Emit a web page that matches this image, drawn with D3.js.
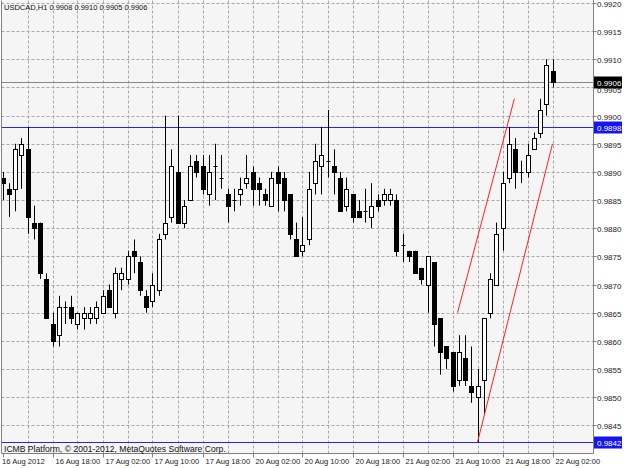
<!DOCTYPE html>
<html><head><meta charset="utf-8">
<script src="https://cdn.jsdelivr.net/npm/d3@7"></script>
<style>
html,body{margin:0;padding:0;background:#fff;}
svg{display:block;}
text{font-family:"Liberation Sans",Arial,sans-serif;}
</style></head>
<body>
<script>
// ---- data ----
const opens  = [.9889,.9887,.9887,.9893,.9894,.9881,.9881,.9871,.9863,.9861,.9866,.9866,.9863,.9864,.9864,.9864,.9865,.9869,.9865,.9871,.9871,.9876,.9874,.9868,.9867,.9869,.9879,.9882,.9890,.9881,.9885,.9892,.9891,.9886,.9891,.9889,.9886,.9885,.9886,.9888,.9890,.9888,.9886,.9884,.9890,.9889,.9886,.9878,.9876,.9878,.9888,.9891,.9892,.9891,.9889,.9884,.9886,.9883,.9883,.9882,.9885,.9885,.9885,.9885,.9877,.9876,.9876,.9873,.9870,.9874,.9864,.9859,.9858,.9853,.9857,.9852,.9850,.9853,.9865,.9870,.9880,.9889,.9894,.9890,.9890,.9894,.9897,.9902,.9908];
const highs  = [.9890,.9888,.9895,.9896,.9898,.9884,.9881,.9872,.9865,.9868,.9867,.9868,.9865,.9866,.9866,.9867,.9869,.9870,.9873,.9873,.9876,.9878,.9875,.9869,.9872,.9879,.9900,.9894,.9900,.9885,.9893,.9893,.9893,.9893,.9895,.9893,.9887,.9887,.9889,.9893,.9891,.9889,.9887,.9890,.9891,.9890,.9886,.9881,.9882,.9890,.9895,.9898,.9901,.9894,.9890,.9889,.9886,.9885,.9887,.9888,.9886,.9887,.9887,.9886,.9879,.9876,.9876,.9873,.9875,.9874,.9864,.9859,.9858,.9861,.9861,.9859,.9855,.9864,.9872,.9881,.9890,.9898,.9896,.9892,.9895,.9897,.9903,.9910,.9910];
const lows   = [.9885,.9882,.9883,.9887,.9879,.9878,.9871,.9864,.9859,.9859,.9863,.9863,.9862,.9862,.9863,.9863,.9865,.9866,.9864,.9869,.9870,.9872,.9868,.9865,.9866,.9868,.9878,.9881,.9881,.9880,.9885,.9889,.9886,.9884,.9885,.9887,.9881,.9883,.9884,.9887,.9884,.9884,.9884,.9884,.9883,.9883,.9878,.9875,.9875,.9877,.9886,.9886,.9889,.9886,.9883,.9883,.9881,.9882,.9881,.9880,.9883,.9884,.9884,.9875,.9874,.9874,.9872,.9870,.9865,.9859,.9854,.9855,.9851,.9852,.9852,.9849,.9842,.9847,.9864,.9870,.9876,.9888,.9887,.9888,.9889,.9894,.9896,.9900,.9905];
const closes = [.9888,.9886,.9894,.9895,.9882,.9880,.9872,.9864,.9860,.9866,.9866,.9864,.9865,.9865,.9865,.9866,.9868,.9866,.9872,.9872,.9875,.9875,.9869,.9866,.9870,.9878,.9881,.9891,.9881,.9884,.9891,.9890,.9887,.9890,.9891,.9889,.9884,.9885,.9887,.9889,.9887,.9887,.9885,.9889,.9888,.9885,.9879,.9875,.9877,.9887,.9892,.9893,.9892,.9890,.9883,.9887,.9882,.9882,.9883,.9884,.9884,.9886,.9886,.9876,.9877,.9875,.9872,.9871,.9875,.9863,.9858,.9857,.9852,.9858,.9853,.9851,.9852,.9864,.9871,.9879,.9888,.9895,.9890,.9890,.9893,.9896,.9901,.9909,.9906];
const priceTicks = [0.9920,0.9915,0.9910,0.9905,0.9900,0.9895,0.9890,0.9885,0.9880,0.9875,0.9870,0.9865,0.9860,0.9855,0.9850,0.9845];
const timeTickIdx = [0,8,16,24,32,40,48,56,64,72,80,88];
const timeLabels = ["16 Aug 2012","16 Aug 18:00","17 Aug 02:00","17 Aug 10:00","17 Aug 18:00","20 Aug 02:00","20 Aug 10:00","20 Aug 18:00","21 Aug 02:00","21 Aug 10:00","21 Aug 18:00","22 Aug 02:00"];
const hLevels = [0.9898, 0.9842];
const bidPrice = 0.9906;
const trendUpper = [[72.8,0.9865],[81.9,0.9903]];
const trendLower = [[76,0.9842],[88,0.9895]];
const title = "USDCAD,H1  0.9908 0.9910 0.9905 0.9906";
const footer = "ICMB Platform, \u00A9 2001-2012, MetaQuotes Software Corp.";

// ---- layout ----
const W = 624, H = 468;
const L = 1.5, R = 593.5, T = 0.5, B = 453.5;
const x = d3.scaleLinear().domain([0, 88]).range([2.5, 552.5]);
const y = d3.scaleLinear().domain([0.9845, 0.9920]).range([425.3, 3]);

const svg = d3.select("body").append("svg").attr("width", W).attr("height", H);
svg.append("rect").attr("width", W).attr("height", H).attr("fill", "#ffffff");
svg.append("rect").attr("x", L).attr("y", T).attr("width", R - L).attr("height", B - T).attr("fill", "#f5f5f5");

const plot = svg.append("g");
plot.append("defs").append("clipPath").attr("id", "clip")
  .append("rect").attr("x", L).attr("y", T).attr("width", R - L).attr("height", B - T);

// grid
const grid = plot.append("g").attr("stroke", "#a8a8a8").attr("stroke-dasharray", "3,2").attr("stroke-width", 1);
priceTicks.forEach(p => {
  const yy = Math.round(y(p)) + 0.5;
  grid.append("line").attr("x1", L).attr("x2", R).attr("y1", yy).attr("y2", yy);
});
d3.range(4, 89, 4).forEach(i => {
  const xx = Math.round(x(i)) + 0.5;
  grid.append("line").attr("x1", xx).attr("x2", xx).attr("y1", T).attr("y2", B);
});

// horizontal levels
const yb = Math.round(y(bidPrice)) + 0.5;
plot.append("line").attr("x1", L).attr("x2", R).attr("y1", yb).attr("y2", yb).attr("stroke", "#7d8a96").attr("stroke-width", 1);
hLevels.forEach(p => {
  const yy = Math.round(y(p)) + 0.5;
  plot.append("line").attr("x1", L).attr("x2", R).attr("y1", yy).attr("y2", yy).attr("stroke", "#2626e6").attr("stroke-width", 1);
});

// candles
const cg = plot.append("g").attr("clip-path", "url(#clip)");
opens.forEach((o, i) => {
  const cx = Math.round(x(i));
  const c = closes[i], h = highs[i], l = lows[i];
  cg.append("line").attr("x1", cx + 0.5).attr("x2", cx + 0.5)
    .attr("y1", y(h)).attr("y2", y(l)).attr("stroke", "#000").attr("stroke-width", 1);
  const yTop = Math.round(y(Math.max(o, c))) + 0.5;
  const yBot = Math.round(y(Math.min(o, c))) + 0.5;
  if (yBot - yTop < 1) {
    cg.append("line").attr("x1", cx - 1.5).attr("x2", cx + 2.5).attr("y1", yTop).attr("y2", yTop)
      .attr("stroke", "#000").attr("stroke-width", 1);
  } else {
    cg.append("rect").attr("x", cx - 1.5).attr("y", yTop).attr("width", 4).attr("height", yBot - yTop)
      .attr("fill", c < o ? "#000" : "#fff").attr("stroke", "#000").attr("stroke-width", 1);
  }
});

// trend lines
[trendUpper, trendLower].forEach(t => {
  plot.append("line").attr("x1", x(t[0][0])).attr("y1", y(t[0][1]))
    .attr("x2", x(t[1][0])).attr("y2", y(t[1][1]))
    .attr("stroke", "#ff2020").attr("stroke-width", 1);
});

// frame
svg.append("line").attr("x1", L).attr("x2", L).attr("y1", T).attr("y2", B).attr("stroke", "#808080");
svg.append("line").attr("x1", R).attr("x2", R).attr("y1", 0).attr("y2", B).attr("stroke", "#808080");
svg.append("line").attr("x1", L).attr("x2", R).attr("y1", B).attr("y2", B).attr("stroke", "#808080");

// price axis
const pa = svg.append("g");
priceTicks.forEach(p => {
  const yy = Math.round(y(p)) + 0.5;
  pa.append("line").attr("x1", R).attr("x2", R + 3).attr("y1", yy).attr("y2", yy).attr("stroke", "#808080");
  // the 0.9905 label sits partly under the bid box, as in the reference
  const off = Math.abs(p - bidPrice) < 0.0002 ? 5 : 3;
  pa.append("text").attr("x", 597).attr("y", yy + off).attr("font-size", 8).attr("fill", "#222")
    .text(d3.format(".4f")(p));
});
// level labels
function levelLabel(p, bg) {
  const yy = Math.round(y(p)) + 0.5;
  pa.append("rect").attr("x", 594).attr("y", yy - 6).attr("width", 28).attr("height", 12).attr("fill", bg);
  pa.append("text").attr("x", 597).attr("y", yy + 3).attr("font-size", 8).attr("fill", "#fff")
    .text(d3.format(".4f")(p));
}
levelLabel(bidPrice, "#000");
hLevels.forEach(p => levelLabel(p, "#1414f5"));

// time axis
const ta = svg.append("g");
timeTickIdx.forEach((idx, k) => {
  const xx = Math.round(x(idx)) + 0.5;
  ta.append("line").attr("x1", xx).attr("x2", xx).attr("y1", B).attr("y2", B + 4).attr("stroke", "#808080");
  ta.append("text").attr("x", k === 0 ? 2 : xx + 2).attr("y", 464).attr("font-size", 7.6).attr("fill", "#222")
    .text(timeLabels[k]);
});

// header & footer
svg.append("text").attr("x", 4).attr("y", 10).attr("font-size", 7.5).attr("fill", "#111").text(title);
svg.append("text").attr("x", 4).attr("y", 452).attr("font-size", 8.6).attr("fill", "#111").text(footer);
</script>
</body></html>
